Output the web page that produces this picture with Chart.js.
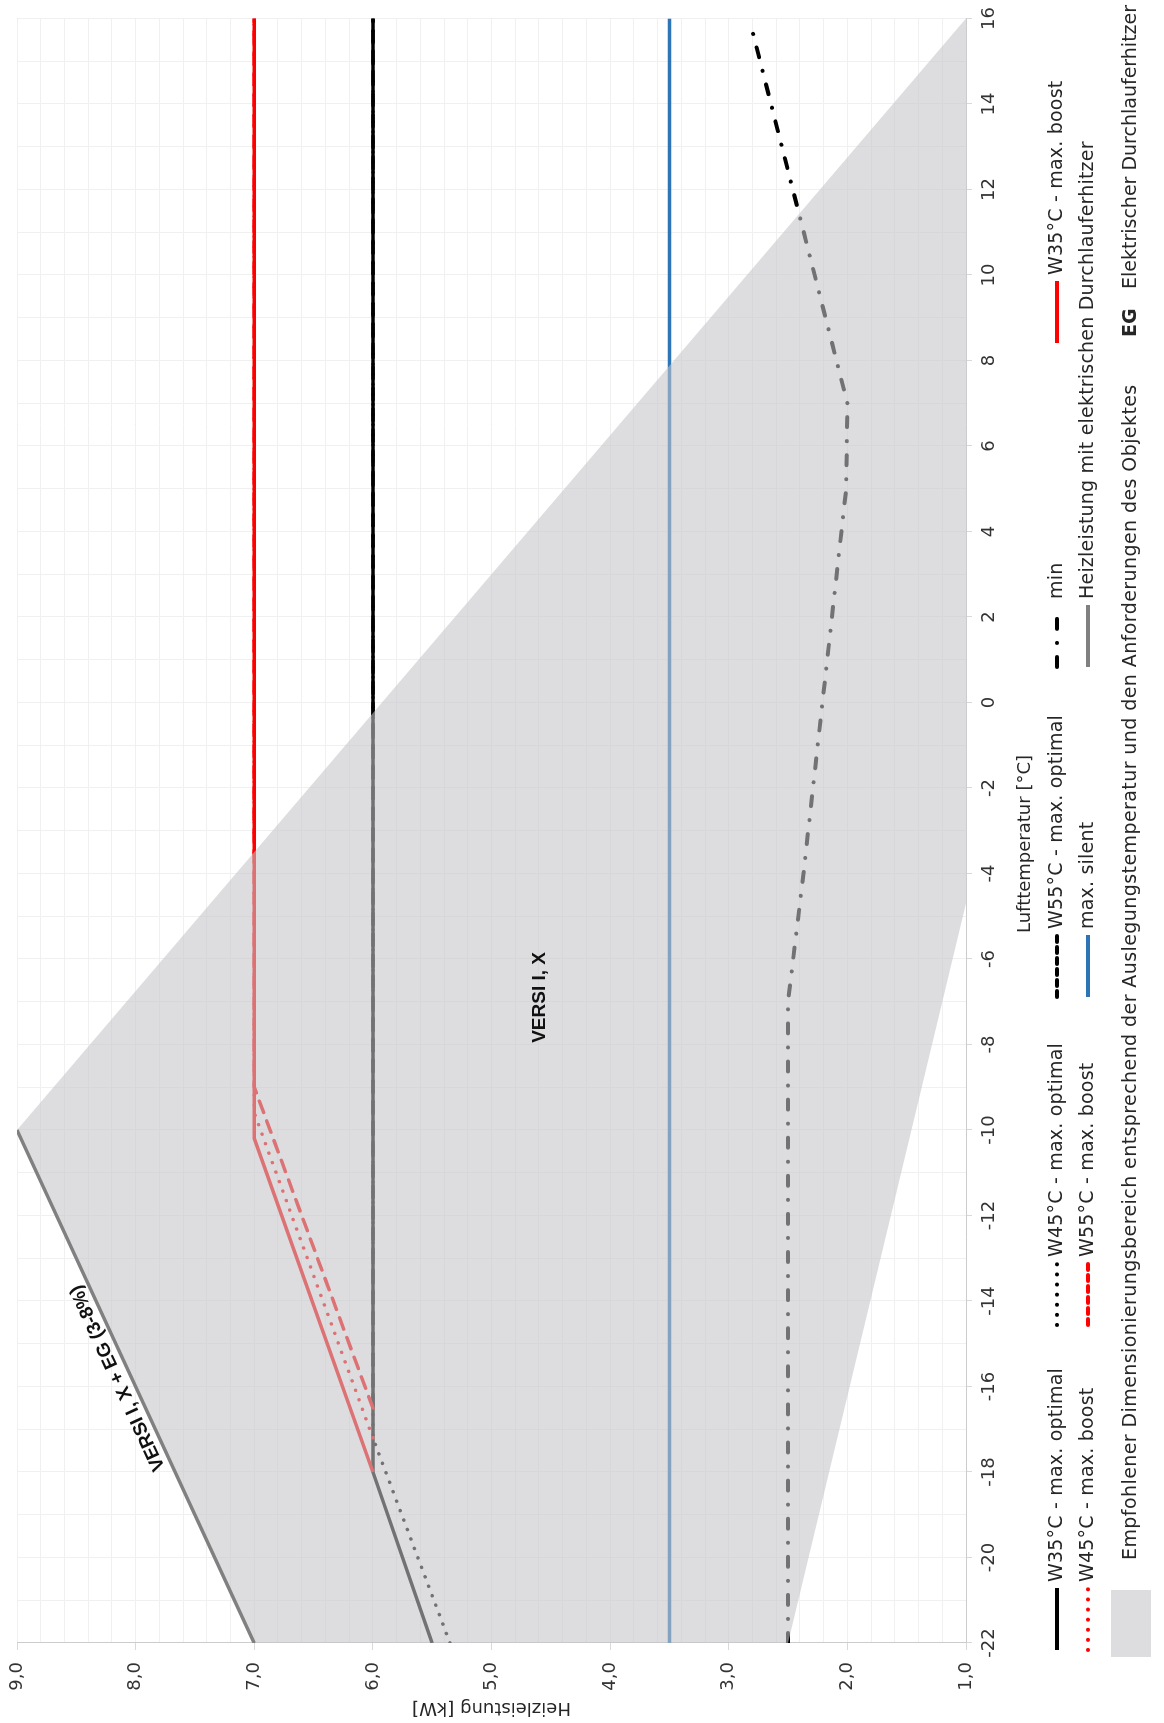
<!DOCTYPE html>
<html>
<head>
<meta charset="utf-8">
<script src="https://cdn.jsdelivr.net/npm/chart.js@4.4.1/dist/chart.umd.min.js"></script>
<style>
html, body { margin: 0; padding: 0; background: #fff; overflow: hidden; }
/* chart is drawn landscape, then turned a quarter to the left like the reference */
#wrap { position: absolute; left: 0; top: 0; width: 1723px; height: 1164px;
        transform-origin: 0 0; transform: translateY(1723px) rotate(-90deg); }
canvas { display: block; }
</style>
</head>
<body>
<div id="wrap"><canvas id="chart" width="1723" height="1164"></canvas></div>
<script>
const get = (id) => document.getElementById(id);

// --- values (x = Lufttemperatur °C, y = Heizleistung kW) ---
const w35OptT = [-22, -18, 16];
const w35OptKw = [5.5, 6.0, 6.0];
const w45OptT = [-22, -17.2, 16];
const w45OptKw = [5.35, 6.0, 6.0];
const w55OptT = [-16.5, 16];
const w55OptKw = [6.0, 6.0];
const minT = [-22, -7, -4, 0, 2, 4, 5, 7, 12, 15.7];
const minKw = [2.5, 2.5, 2.37, 2.21, 2.13, 2.05, 2.01, 2.0, 2.46, 2.8];
const w35BoostT = [-18, -10.2, 16];
const w35BoostKw = [6.0, 7.0, 7.0];
const w45BoostT = [-17.2, -9.6, 16];
const w45BoostKw = [6.0, 7.0, 7.0];
const w55BoostT = [-16.5, -9.0, 16];
const w55BoostKw = [6.0, 7.0, 7.0];
const silentT = [-22, 16];
const silentKw = [3.5, 3.5];
const egT = [-22, -10];
const egKw = [7.0, 9.0];
const rangeT = [-22, -10, 16, -4.7, -22];
const rangeKw = [7.0, 9.0, 1.0, 1.0, 2.5];

const plotLabels = ['VERSI I, X', 'VERSI I, X + EG (3-8%)'];
const plotLabelT = [-6.9, -15.8];
const plotLabelKw = [4.59, 8.15];

const xTitle = 'Lufttemperatur [°C]';
const yTitle = 'Heizleistung [kW]';
const legendRow1 = ['W35°C - max. optimal', 'W45°C - max. optimal', 'W55°C - max. optimal', 'min', 'W35°C - max. boost'];
const legendRow2 = ['W45°C - max. boost', 'W55°C - max. boost', 'max. silent', 'Heizleistung mit elektrischen Durchlauferhitzer'];
const rangeLabel = 'Empfohlener Dimensionierungsbereich entsprechend der Auslegungstemperatur und den Anforderungen des Objektes';
const egAbbr = 'EG';
const egText = 'Elektrischer Durchlauferhitzer';

// --- styles ---
const FONT = '"DejaVu Sans", sans-serif';
const TEXT = '#262626';
const BLACK = '#000000';
const RED = '#ff0000';
const BLUE = '#2e75b6';
const GRAY = '#808080';
const FILL = 'rgba(196, 197, 201, 0.58)';
const DOT = [0.1, 10];
const DASH = [12, 9];
const DASHDOT = [10, 14, 0.1, 14];

const pts = (t, kw) => t.map((v, i) => ({ x: v, y: kw[i] }));

function line(label, t, kw, color, dash, width, order) {
    return {
        label, data: pts(t, kw),
        borderColor: color, borderWidth: width,
        borderDash: dash, borderCapStyle: dash.length ? 'round' : 'butt',
        pointRadius: 0, fill: false, order
    };
}

// 1. LEGEND (custom grid, like the reference)
const legendPlugin = {
    id: 'gridLegend',
    afterDraw(chart) {
        const ctx = chart.ctx;
        const cols = [73, 398, 726, 1056, 1380];
        const rows = [[legendRow1, 1057], [legendRow2, 1088]];
        ctx.save();
        ctx.font = `19px ${FONT}`;
        ctx.textBaseline = 'middle';
        ctx.fillStyle = TEXT;

        // axis title under the temperature ticks
        ctx.textAlign = 'center';
        ctx.font = `18px ${FONT}`;
        ctx.fillText(xTitle, 879, 1025);
        ctx.textAlign = 'left';
        ctx.font = `19px ${FONT}`;
        ctx.letterSpacing = '0.2px';

        rows.forEach(([items, y]) => {
            items.forEach((label, i) => {
                const ds = chart.data.datasets.find(d => d.label === label);
                const x = cols[i];
                ctx.save();
                ctx.strokeStyle = ds.borderColor;
                ctx.lineWidth = 4;
                ctx.setLineDash(ds.borderDash === DASH ? [6, 5] : ds.borderDash);
                ctx.lineCap = ds.borderCapStyle;
                ctx.beginPath();
                ctx.moveTo(x, y);
                ctx.lineTo(x + 62, y);
                ctx.stroke();
                ctx.restore();
                ctx.fillText(label, x + 68, y);
            });
        });
        // recommended range swatch + EG note
        ctx.fillStyle = FILL;
        ctx.fillRect(66, 1111, 67, 40);
        ctx.fillStyle = TEXT;
        ctx.letterSpacing = '0.42px';
        ctx.fillText(rangeLabel, 163, 1131);
        ctx.letterSpacing = '0px';
        ctx.font = `bold 19px ${FONT}`;
        ctx.fillText(egAbbr, 1386, 1131);
        ctx.font = `19px ${FONT}`;
        ctx.fillText(egText, 1434, 1131);
        ctx.restore();
    }
};

// 2. LABELS INSIDE THE PLOT
const plotLabelPlugin = {
    id: 'plotLabels',
    afterDatasetsDraw(chart) {
        const { ctx, scales: { x, y } } = chart;
        ctx.save();
        ctx.font = 'bold 19px "Liberation Sans", sans-serif';
        ctx.fillStyle = '#111';
        ctx.textAlign = 'center';
        ctx.textBaseline = 'middle';
        ctx.fillText(plotLabels[0], x.getPixelForValue(plotLabelT[0]), y.getPixelForValue(plotLabelKw[0]));
        const ang = Math.atan2(
            y.getPixelForValue(egKw[1]) - y.getPixelForValue(egKw[0]),
            x.getPixelForValue(egT[1]) - x.getPixelForValue(egT[0]));
        ctx.translate(x.getPixelForValue(plotLabelT[1]), y.getPixelForValue(plotLabelKw[1]));
        ctx.rotate(ang);
        ctx.fillText(plotLabels[1], 0, 0);
        ctx.restore();
    }
};

// 3. CHART
function initChart() {
    const ctx = get('chart').getContext('2d');
    new Chart(ctx, {
        type: 'line',
        data: {
            datasets: [
                line('Heizleistung mit elektrischen Durchlauferhitzer', egT, egKw, GRAY, [], 3.5, 0),
                {
                    label: 'Bereich', data: pts(rangeT, rangeKw),
                    borderWidth: 0, borderColor: 'rgba(0,0,0,0)', backgroundColor: FILL,
                    pointRadius: 0, fill: 'shape', order: 1
                },
                line('W35°C - max. boost', w35BoostT, w35BoostKw, RED, [], 3.5, 2),
                line('W45°C - max. boost', w45BoostT, w45BoostKw, RED, DOT, 3.5, 3),
                line('W55°C - max. boost', w55BoostT, w55BoostKw, RED, DASH, 3.5, 3),
                line('W35°C - max. optimal', w35OptT, w35OptKw, BLACK, [], 3.5, 4),
                line('W45°C - max. optimal', w45OptT, w45OptKw, BLACK, DOT, 3.5, 4),
                line('W55°C - max. optimal', w55OptT, w55OptKw, BLACK, DASH, 3.5, 4),
                line('max. silent', silentT, silentKw, BLUE, [], 3.5, 4),
                line('min', minT, minKw, BLACK, DASHDOT, 4, 4)
            ]
        },
        options: {
            responsive: false,
            animation: false,
            devicePixelRatio: 1,
            events: [],
            layout: { padding: { left: 0, right: 13, top: 17, bottom: 0 } },
            plugins: { legend: { display: false }, tooltip: { enabled: false } },
            scales: {
                x: {
                    type: 'linear', position: 'bottom', min: -22, max: 16,
                    ticks: { stepSize: 2, color: '#333', font: { family: FONT, size: 18 }, padding: 7, maxRotation: 0, autoSkip: false },
                    grid: { color: '#d9d9d9', tickLength: 6 },
                    border: { color: '#cccccc' },
                    afterFit: (s) => { s.height = 198; }
                },
                xMinor: {
                    type: 'linear', position: 'bottom', min: -22, max: 16,
                    ticks: { stepSize: 1, display: false },
                    grid: { color: '#f0f0f0', drawTicks: false, z: -1 },
                    border: { display: false },
                    afterFit: (s) => { s.height = 0; }
                },
                y: {
                    type: 'linear', position: 'left', min: 1, max: 9,
                    ticks: { stepSize: 1, color: '#333', font: { family: FONT, size: 18, lineHeight: 0.4 }, padding: 12,
                             callback: (v) => v.toFixed(1).replace('.', ',') },
                    grid: { color: '#d9d9d9', tickLength: 7 },
                    border: { color: '#cccccc' },
                    title: { display: true, text: yTitle, color: TEXT, font: { family: FONT, size: 18 }, padding: { top: 5, bottom: 0 } },
                    afterFit: (s) => { s.width = 80; }
                },
                yMinor: {
                    type: 'linear', position: 'left', min: 1, max: 9,
                    ticks: { stepSize: 0.2, display: false },
                    grid: { color: '#f0f0f0', drawTicks: false, z: -1 },
                    border: { display: false },
                    afterFit: (s) => { s.width = 0; }
                }
            }
        },
        plugins: [plotLabelPlugin, legendPlugin]
    });
}

document.addEventListener('DOMContentLoaded', initChart);
</script>
</body>
</html>
